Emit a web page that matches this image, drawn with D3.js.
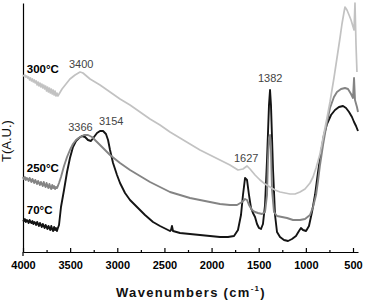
<!DOCTYPE html>
<html><head><meta charset="utf-8">
<script src="https://cdnjs.cloudflare.com/ajax/libs/d3/7.8.5/d3.min.js"></script>
<style>
html,body{margin:0;padding:0;background:#fff;}
svg{display:block;}
text{font-family:Arial,"Liberation Sans",sans-serif;}
</style></head>
<body>
<svg id="chart" width="366" height="302"></svg>
<script>
// ---- data (wavenumber cm^-1, transmittance in arbitrary units) ----
// noisy region 4000..3630 sampled every 10 cm^-1
const wnNoise = [4000,3990,3980,3970,3960,3950,3940,3930,3920,3910,3900,3890,3880,3870,3860,3850,3840,3830,3820,3810,3800,3790,3780,3770,3760,3750,3740,3730,3720,3710,3700,3690,3680,3670,3660,3650,3640,3630];
const t300Noise = [177,176,177,175,176,174,175,172,174,171,173,170,172,169,171,167,170,166,169,165,168,164,167,163,166,161,165,160,164,159,163,158,162,157,161,156,159,156];
const t250Noise = [75,73,75,72,74,73,71,74,72,70,73,71,69,72,70,68,71,69,67,70,68,66,70,67,65,69,66,64,68,65,63,67,64,66,63,65,64,66];
const t70Noise  = [32,31,33,30,32,31,29,32,30,29,31,28,30,29,27,30,28,26,29,27,25,28,26,24,27,25,23,26,24,22,26,23,21,25,22,24,21,24];

const wn300 = [3586,3544,3502,3448,3395,3364,3289,3183,3077,2971,2865,2759,2653,2547,2441,2335,2229,2123,2017,1911,1805,1720,1667,1624,1592,1539,1486,1433,1380,1327,1274,1221,1168,1115,1062,1009,956,924,892,850,818,776,744,702,670,638,617,595,585,564,542,521,489,479,468,458];
const t300  = [163,168,173,177,180,179,173,167,160,153,147,140,133,127,120,114,108,102,97,92,87,82,83,86,83,77,72,68,65,62,60,59,58,58,60,63,69,75,84,98,114,134,150,174,194,214,228,240,245,242,237,232,222,249,207,180];

const wn250 = [3618,3597,3565,3533,3502,3470,3438,3395,3353,3311,3268,3226,3183,3130,3077,3024,2971,2865,2759,2653,2547,2441,2335,2229,2123,2017,1911,1805,1730,1677,1645,1624,1603,1571,1539,1508,1465,1433,1412,1402,1391,1380,1370,1359,1338,1306,1253,1200,1136,1062,1009,956,924,892,871,850,818,776,744,702,670,627,585,553,521,500,489,479,458,447];
const t250  = [69,75,86,95,102,108,112,115,117,117,115,111,107,102,97,93,89,82,76,70,65,60,57,54,52,50,48,47,47,50,53,52,47,42,40,39,38,40,57,92,114,117,102,62,40,36,35,34,32,32,33,37,45,57,71,87,107,130,144,155,160,163,164,163,158,154,174,152,145,140];

const wn70 = [3618,3597,3565,3533,3502,3470,3438,3406,3374,3342,3311,3279,3247,3215,3183,3151,3120,3109,3098,3077,3045,3003,2971,2918,2865,2791,2706,2621,2547,2483,2441,2430,2420,2409,2335,2229,2123,2017,1911,1826,1762,1720,1688,1667,1645,1624,1603,1582,1561,1539,1518,1497,1476,1455,1433,1412,1391,1380,1370,1348,1327,1306,1274,1232,1189,1147,1105,1073,1052,1030,998,967,935,903,871,839,808,776,733,691,649,606,574,542,511,489,468,447];
const t70  = [27,45,62,80,94,105,111,114,116,115,112,111,115,119,121,121,118,115,112,102,89,77,69,59,52,45,37,30,26,23,21,22,26,21,19,18,17,16,15,15,16,22,37,57,74,72,57,44,39,35,28,24,23,28,47,92,147,162,147,82,37,20,15,12,11,13,16,21,24,22,21,26,40,57,80,100,117,128,137,142,145,146,144,140,135,130,126,121];

const seriesNames = ["300°C","250°C","70°C"];
const xTickLabels = [4000,3500,3000,2500,2000,1500,1000,500];
const xMinorTicks = [3750,3250,2750,2250,1750,1250,750];
const peakLabels = [
  {text:"3400", wn:3512, t:184},
  {text:"3366", wn:3520, t:121},
  {text:"3154", wn:3194, t:127},
  {text:"1627", wn:1762, t:90},
  {text:"1382", wn:1508, t:170}
];
const seriesLabelT = [179, 80, 38];

// ---- scales ----
const svg = d3.select("#chart");
const x = d3.scaleLinear().domain([4000,447]).range([23,358]);
const y = d3.scaleLinear().domain([0,249]).range([252,3]);

// ---- axes ----
const xAxis = d3.axisBottom(x).tickValues(xTickLabels).tickSizeInner(-4).tickSizeOuter(0).tickPadding(9).tickFormat(d3.format("d"));
const gx = svg.append("g").attr("transform",`translate(0,${y(0)})`).call(xAxis);
gx.select(".domain").attr("stroke","#000").attr("stroke-width",1.2);
gx.selectAll(".tick line").attr("stroke","#000").attr("stroke-width",1.2);
gx.selectAll(".tick text").attr("font-size",11).attr("font-weight","bold").attr("fill","#000")
  .attr("font-family",'Arial,"Liberation Sans",sans-serif');
const xMinor = d3.axisBottom(x).tickValues(xMinorTicks).tickSizeInner(-2).tickSizeOuter(0).tickFormat("");
const gm = svg.append("g").attr("transform",`translate(0,${y(0)})`).call(xMinor);
gm.select(".domain").remove();
gm.selectAll(".tick line").attr("stroke","#000").attr("stroke-width",1.2);

const yAxis = d3.axisLeft(y).tickValues([]).tickSizeOuter(0);
const gy = svg.append("g").attr("transform",`translate(${x(4000)},0)`).call(yAxis);
gy.select(".domain").attr("stroke","#000").attr("stroke-width",1.2);
svg.append("line").attr("x1",x(4000)).attr("x2",x(4000)).attr("y1",y(0)).attr("y2",y(0)+4)
  .attr("stroke","#000").attr("stroke-width",1.2);

// ---- lines ----
const line = d3.line().x(d=>x(d[0])).y(d=>y(d[1]));
const series = [
  {wn:wnNoise.concat(wn70),  t:t70Noise.concat(t70),   color:"#141414", w:1.9},
  {wn:wnNoise.concat(wn250), t:t250Noise.concat(t250), color:"#848484", w:1.9},
  {wn:wnNoise.concat(wn300), t:t300Noise.concat(t300), color:"#c2c2c2", w:1.7}
];
series.forEach(s=>{
  svg.append("path").datum(s.wn.map((v,i)=>[v,s.t[i]]))
    .attr("d",line).attr("fill","none").attr("stroke",s.color)
    .attr("stroke-width",s.w).attr("stroke-linejoin","round");
});

// ---- labels ----
seriesNames.forEach((n,i)=>{
  svg.append("text").attr("x",x(3960)).attr("y",y(seriesLabelT[i])).text(n)
    .attr("font-size",11.5).attr("font-weight","bold").attr("fill","#000");
});
peakLabels.forEach(l=>{
  svg.append("text").attr("x",x(l.wn)).attr("y",y(l.t)).text(l.text)
    .attr("font-size",11).attr("fill","#444");
});

// axis titles
const xt = svg.append("text").attr("x",191).attr("y",297).attr("text-anchor","middle")
  .attr("font-size",13).attr("font-weight","bold").attr("letter-spacing",1.3).attr("fill","#111");
xt.append("tspan").text("Wavenumbers (cm");
xt.append("tspan").text("-1").attr("font-size",8).attr("dy",-6);
xt.append("tspan").text(")").attr("dy",6);

svg.append("text").attr("transform","translate(11,141) rotate(-90)").attr("text-anchor","middle")
  .attr("font-size",13).attr("fill","#111").text("T(A.U.)");
</script>
</body></html>
